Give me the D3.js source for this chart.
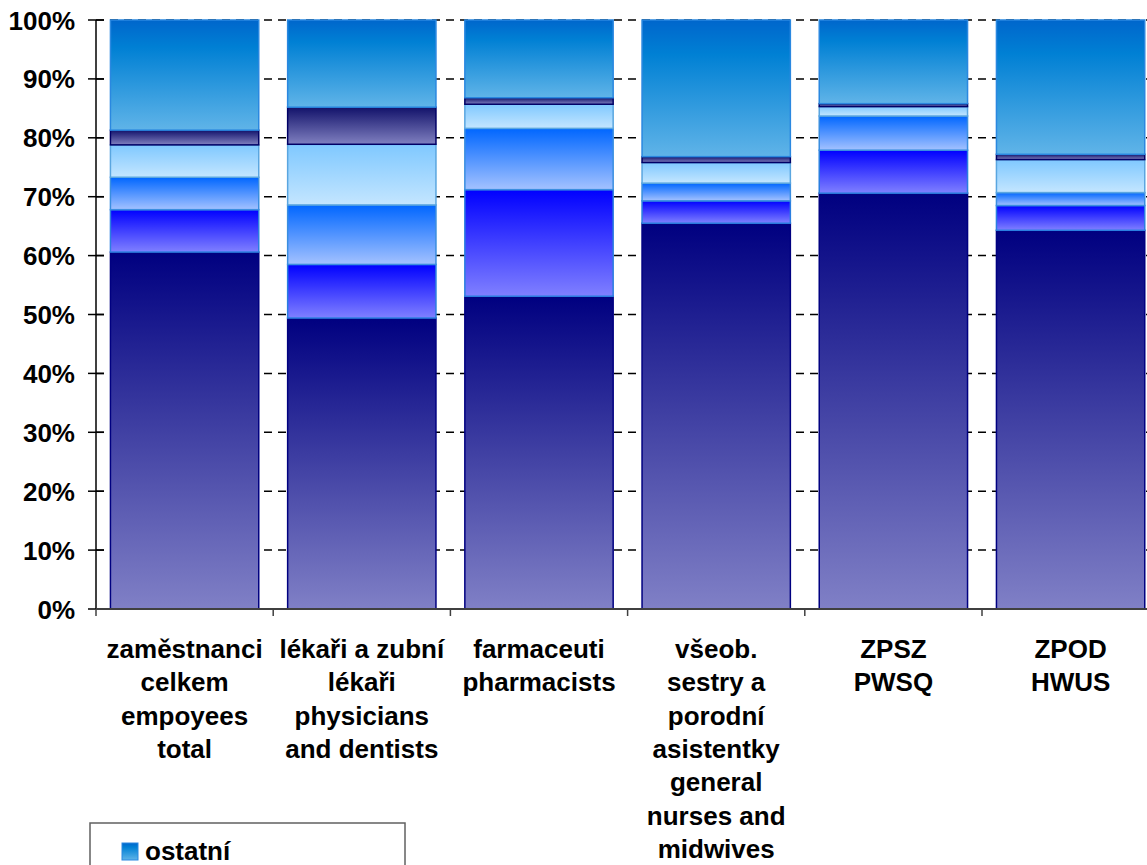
<!DOCTYPE html>
<html>
<head>
  <meta charset="utf-8">
  <title>struktura</title>
  <script src="https://d3js.org/d3.v7.min.js"></script>
  <style>
    body { margin: 0; background: #fff; }
    text { font-family: "Liberation Sans", Arial, sans-serif; font-weight: bold; }
  </style>
</head>
<body>
  <svg width="1147" height="865" id="mainsvg"></svg>
  <script>
    // kategorie (radky popisku)
    const categories = [
      ["zaměstnanci", "celkem", "empoyees", "total"],
      ["lékaři a zubní", "lékaři", "physicians", "and dentists"],
      ["farmaceuti", "pharmacists"],
      ["všeob.", "sestry a", "porodní", "asistentky", "general", "nurses and", "midwives"],
      ["ZPSZ", "PWSQ"],
      ["ZPOD", "HWUS"]
    ];
    // podily v % (odspodu nahoru), odhad z obrazku
    const serie1 = [60.6, 49.4, 53.1, 65.5, 70.6, 64.3];
    const serie2 = [7.2, 9.1, 18.1, 3.8, 7.3, 4.2];
    const serie3 = [5.5, 10.1, 10.4, 3.0, 5.8, 2.2];
    const serie4 = [5.5, 10.3, 4.1, 3.5, 1.6, 5.6];
    const serie5 = [2.5, 6.3, 1.1, 1.0, 0.5, 0.9];
    const ostatni = [18.7, 14.8, 13.2, 23.2, 14.2, 22.8];
    const yTicks = [0, 10, 20, 30, 40, 50, 60, 70, 80, 90, 100];
    const legendNames = ["ostatní"];

    const series = [serie1, serie2, serie3, serie4, serie5, ostatni];

    // barvy: prechod shora dolu + okraj
    const fills = [
      { stops: ["#000080", "#8080c6"], stroke: "#000080" },
      { stops: ["#0000ff", "#8080ff"], stroke: "#2a7ee0" },
      { stops: ["#0066ff", "#a4c2ff"], stroke: "#3a8ee0" },
      { stops: ["#7fc8ff", "#c4e6ff"], stroke: "#5aa6e0" },
      { stops: ["#12126a", "#8080c0"], stroke: "#000066" },
      { stops: ["#0066cc", "#0080d4", "#60b4e8"], stroke: "#2a88e0" }
    ];

    const svg = d3.select('#mainsvg');
    const mLeft = 96, mTop = 20, mBottom = 609;
    const plotRight = mLeft + 6 * 177.2;

    const defs = svg.append("defs");
    fills.forEach((f, i) => {
      const g = defs.append("linearGradient")
        .attr("id", "grad" + i)
        .attr("x1", 0).attr("y1", 0).attr("x2", 0).attr("y2", 1);
      f.stops.forEach((c, j) => {
        g.append("stop")
          .attr("offset", f.stops.length === 3 ? [0, 0.25, 1][j] : j)
          .attr("stop-color", c);
      });
    });

    const x = d3.scaleBand()
      .domain(d3.range(categories.length))
      .range([mLeft, plotRight])
      .paddingInner(0.163)
      .paddingOuter(0.0815);

    const y = d3.scaleLinear().domain([0, 100]).range([mBottom, mTop]);

    // mrizka (carkovana)
    svg.append("g").selectAll("line")
      .data(yTicks.filter(d => d > 0))
      .enter().append("line")
      .attr("x1", mLeft).attr("x2", plotRight)
      .attr("y1", d => y(d)).attr("y2", d => y(d))
      .attr("stroke", "#000")
      .attr("stroke-width", 1.5)
      .attr("stroke-dasharray", "8,6");

    // stack
    const rows = categories.map((c, i) => {
      const r = { idx: i };
      series.forEach((s, k) => r["s" + k] = s[i]);
      return r;
    });
    const keys = series.map((s, k) => "s" + k);
    const stacked = d3.stack().keys(keys)(rows);

    stacked.forEach((layer, k) => {
      svg.append("g").selectAll("rect")
        .data(layer)
        .enter().append("rect")
        .attr("x", d => x(d.data.idx))
        .attr("width", x.bandwidth())
        .attr("y", d => y(d[1]))
        .attr("height", d => y(d[0]) - y(d[1]))
        .attr("fill", "url(#grad" + k + ")")
        .attr("stroke", fills[k].stroke)
        .attr("stroke-width", 1.5);
    });

    // osa y
    const yAxis = svg.append("g");
    yAxis.append("line")
      .attr("x1", mLeft).attr("x2", mLeft)
      .attr("y1", mTop).attr("y2", mBottom)
      .attr("stroke", "#000").attr("stroke-width", 1.5);
    yAxis.selectAll(".tk").data(yTicks).enter().append("line")
      .attr("x1", mLeft - 8).attr("x2", mLeft + 8)
      .attr("y1", d => y(d)).attr("y2", d => y(d))
      .attr("stroke", "#000").attr("stroke-width", 1.5);
    yAxis.selectAll("text").data(yTicks).enter().append("text")
      .attr("x", 75)
      .attr("y", d => y(d) + 9.5)
      .attr("text-anchor", "end")
      .attr("font-size", 26)
      .text(d => d + "%");

    // osa x
    svg.append("line")
      .attr("x1", mLeft).attr("x2", plotRight)
      .attr("y1", mBottom).attr("y2", mBottom)
      .attr("stroke", "#404040").attr("stroke-width", 2);
    svg.append("g").selectAll("line")
      .data(d3.range(categories.length + 1))
      .enter().append("line")
      .attr("x1", d => mLeft + d * x.step()).attr("x2", d => mLeft + d * x.step())
      .attr("y1", mBottom).attr("y2", mBottom + 7)
      .attr("stroke", "#404040").attr("stroke-width", 1.5);

    const labels = svg.append("g").selectAll("text")
      .data(categories)
      .enter().append("text")
      .attr("text-anchor", "middle")
      .attr("font-size", 26);
    labels.each(function (lines, i) {
      const cx = x(i) + x.bandwidth() / 2;
      d3.select(this).selectAll("tspan").data(lines).enter().append("tspan")
        .attr("x", cx)
        .attr("y", (d, j) => 658 + j * 33.3)
        .text(d => d);
    });

    // legenda
    const lg = svg.append("g");
    lg.append("rect")
      .attr("x", 90).attr("y", 823)
      .attr("width", 315).attr("height", 120)
      .attr("fill", "#fff")
      .attr("stroke", "#606060").attr("stroke-width", 1.5);
    legendNames.forEach((name, i) => {
      const k = series.length - 1 - i;
      lg.append("rect")
        .attr("x", 122).attr("y", 843 + i * 33)
        .attr("width", 16).attr("height", 17)
        .attr("fill", "url(#grad" + k + ")")
        .attr("stroke", fills[k].stroke);
      lg.append("text")
        .attr("x", 145).attr("y", 860 + i * 33)
        .attr("font-size", 26)
        .text(name);
    });
  </script>
</body>
</html>
